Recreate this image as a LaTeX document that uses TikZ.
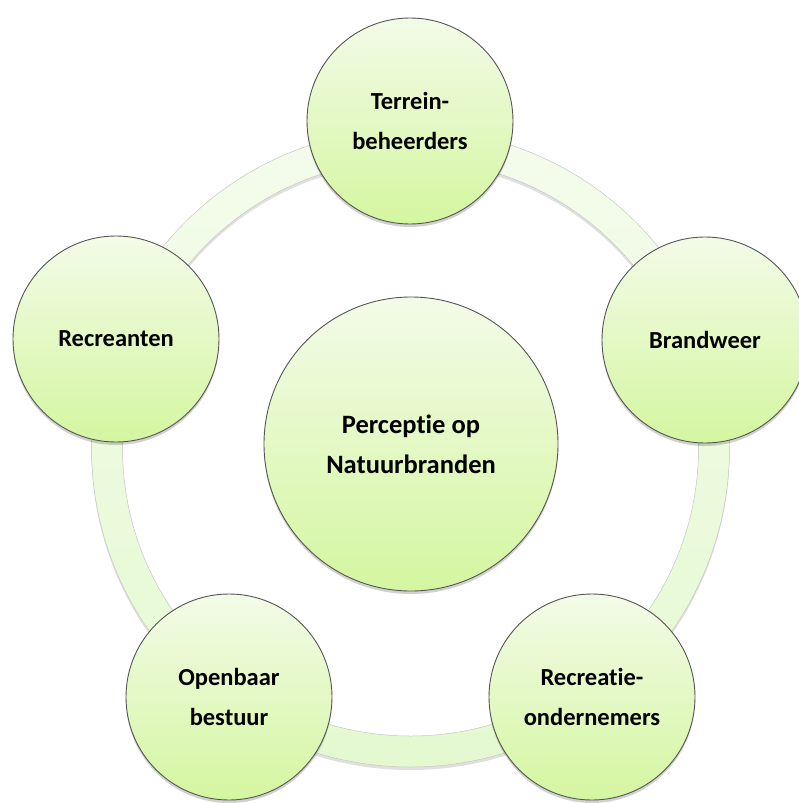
\documentclass[tikz,border=0pt]{standalone}
\usepackage{fontspec}
\setmainfont{Carlito}[Ligatures=NoCommon]
\usetikzlibrary{shadows}
\definecolor{circtop}{RGB}{243,251,232}
\definecolor{circbot}{RGB}{212,246,160}
\definecolor{ringtop}{RGB}{244,252,236}
\definecolor{ringbot}{RGB}{228,249,208}
\definecolor{edgegray}{RGB}{85,85,85}
\tikzset{
  bubble/.style={circle, draw=edgegray, line width=0.9pt, top color=circtop, bottom color=circbot,
    minimum size=206pt, inner sep=0pt, align=center,
    font=\fontsize{24.5}{40}\selectfont\bfseries,
    drop shadow={shadow xshift=0pt, shadow yshift=-3pt, opacity=0.18, fill=black}},
  hub/.style={bubble, minimum size=294pt, font=\fontsize{26.5}{40}\selectfont\bfseries}
}
\begin{document}
\begin{tikzpicture}[x=1pt,y=-1pt]
\useasboundingbox (0,0) rectangle (798,803);
\coordinate (rc) at (410.5,448);
% ring shadow
\fill[black, opacity=0.12, even odd rule] ([yshift=-3pt]rc) circle (319) ([yshift=-3pt]rc) circle (288);
% ring
\shade[even odd rule, top color=ringtop, bottom color=ringbot] (rc) circle (319) (rc) circle (288);
\draw[gray!45, line width=0.5pt] (rc) circle (319) (rc) circle (288);
% nodes
\node[hub] (center) at (411,444) {Perceptie op\\Natuurbranden};
\node[bubble] (terrein) at (410,121) {Terrein-\\beheerders};
\node[bubble] (brand) at (705,340) {Brandweer};
\node[bubble] (recond) at (592,697) {Recreatie-\\ondernemers};
\node[bubble] (openb) at (229,697) {Openbaar\\bestuur};
\node[bubble] (recr) at (116,339) {Recreanten};
\end{tikzpicture}
\end{document}
